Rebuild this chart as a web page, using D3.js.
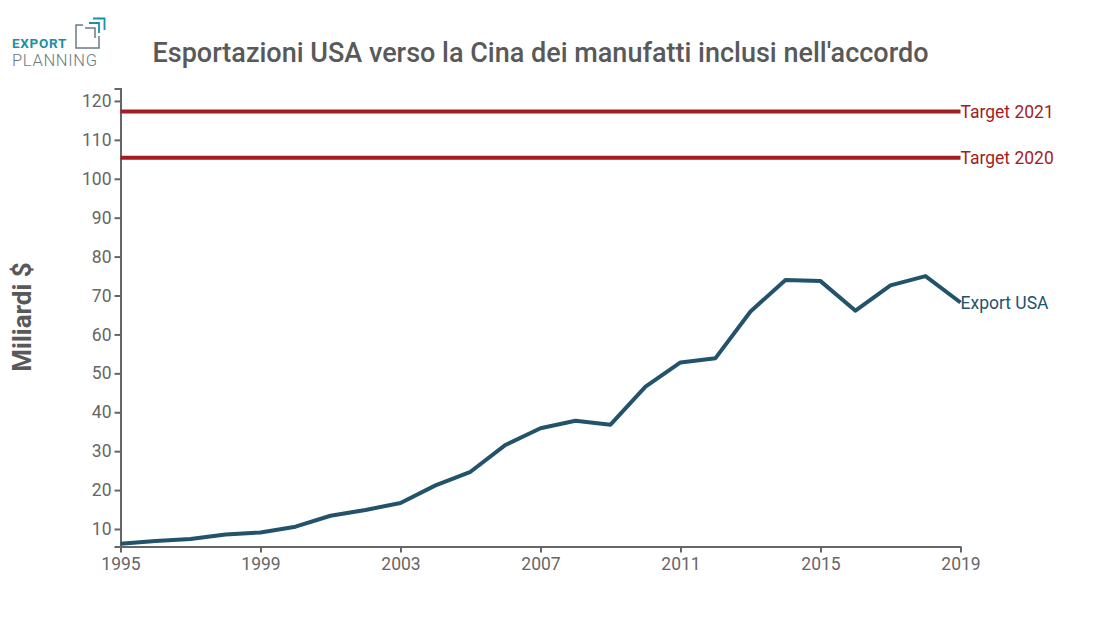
<!DOCTYPE html>
<html><head><meta charset="utf-8">
<script src="https://cdn.jsdelivr.net/npm/d3@7"></script>
<style>
body{margin:0;background:#fff;}
text{font-family:Roboto,"Noto Sans",sans-serif;}
</style></head>
<body><svg id="c" width="1095" height="627"></svg>
<script>
const years = [1995,1996,1997,1998,1999,2000,2001,2002,2003,2004,2005,2006,2007,2008,2009,2010,2011,2012,2013,2014,2015,2016,2017,2018,2019];
const exportUSA = [6.2,6.9,7.4,8.6,9.1,10.6,13.4,14.9,16.7,21.2,24.7,31.6,35.9,37.8,36.8,46.6,52.8,53.9,65.9,74.0,73.7,66.1,72.6,75.0,68.2];
const targetNames = ["Target 2021","Target 2020"];
const targetValues = [117.3,105.4];
const yTicks = [10,20,30,40,50,60,70,80,90,100,110,120];
const xTicks = [1995,1999,2003,2007,2011,2015,2019];
const title = "Esportazioni USA verso la Cina dei manufatti inclusi nell'accordo";
const yLabel = "Miliardi $";

const svg = d3.select("#c");
const m = {l:120.5, r:134.5, t:88.5, b:80.5};
const W = 1095, H = 627;
const x = d3.scaleLinear().domain([1995,2019]).range([m.l, W - m.r]);
const y = d3.scaleLinear().domain([5.5,123.2]).range([H - m.b, m.t]);

// axes
const gx = svg.append("g").attr("transform",`translate(0,${H-m.b})`)
  .call(d3.axisBottom(x).tickValues(xTicks).tickFormat(d3.format("d")).tickSizeOuter(0));
const gy = svg.append("g").attr("transform",`translate(${m.l},0)`)
  .call(d3.axisLeft(y).tickValues(yTicks));
[gx,gy].forEach(g=>{
  g.selectAll("path,line").attr("stroke","#666").attr("stroke-width",2);
  g.selectAll("text").attr("fill","#666").style("font-size","17.5px");
});
gx.selectAll("text").attr("dy","0.85em");

// target lines
const red = "#a51d21";
targetValues.forEach((v,i)=>{
  svg.append("line").attr("x1",x(1995)).attr("x2",x(2019)).attr("y1",y(v)).attr("y2",y(v))
    .attr("stroke",red).attr("stroke-width",4);
  svg.append("text").attr("x",x(2019)).attr("y",y(v)).attr("dy","0.35em")
    .attr("fill",red).style("font-size","17.5px").text(targetNames[i]);
});

// export line
const blue = "#22536b";
svg.append("path").datum(years.map((yr,i)=>[yr,exportUSA[i]]))
  .attr("fill","none").attr("stroke",blue).attr("stroke-width",4).attr("stroke-linejoin","round")
  .attr("d", d3.line().x(d=>x(d[0])).y(d=>y(d[1])));
svg.append("text").attr("x",x(2019)).attr("y",y(exportUSA[exportUSA.length-1])).attr("dy","0.35em")
  .attr("fill",blue).style("font-size","17.5px").text("Export USA");

// title
svg.append("text").attr("x",540.5).attr("y",62).attr("text-anchor","middle")
  .attr("fill","#595959").style("font-size","27px").style("font-weight","500").text(title);

// y label
svg.append("text").attr("transform","translate(31,317) rotate(-90)").attr("text-anchor","middle")
  .attr("fill","#595959").style("font-size","26px").style("font-weight","700").text(yLabel);

// logo
const lg = svg.append("g");
lg.append("text").attr("x",12).attr("y",47.5).attr("fill","#1b8fa6").style("font-size","13.5px").style("font-weight","700").style("letter-spacing","0.7px").text("EXPORT");
lg.append("text").attr("x",12).attr("y",65.5).attr("fill","#6b7b85").style("font-size","16.5px").style("font-weight","300").style("letter-spacing","0.7px").text("PLANNING");
lg.append("path").attr("d","M83,25 H76 V48 H99 V36").attr("fill","none").attr("stroke","#6b7b85").attr("stroke-width",1.5);
lg.append("path").attr("d","M85,28 H95 V38").attr("fill","none").attr("stroke","#6b7b85").attr("stroke-width",1.5);
lg.append("path").attr("d","M89,23 H99 V33").attr("fill","none").attr("stroke","#1b8fa6").attr("stroke-width",1.8);
lg.append("path").attr("d","M93,18.5 H104.5 V30").attr("fill","none").attr("stroke","#1b8fa6").attr("stroke-width",1.8);
</script></body></html>
